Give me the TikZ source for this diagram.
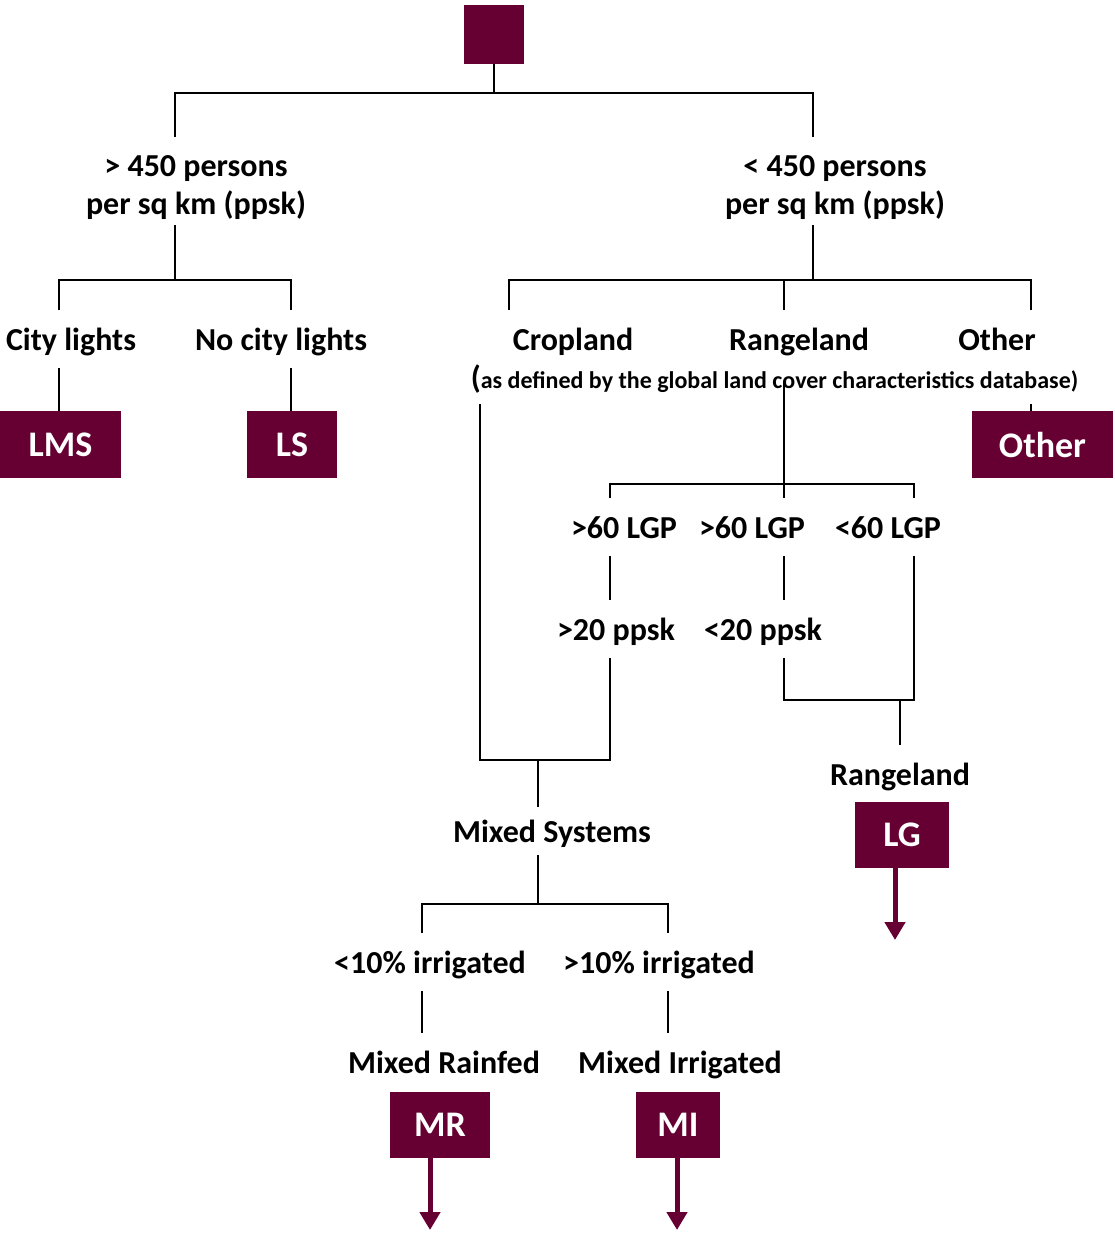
\documentclass[tikz,border=0pt]{standalone}
\usepackage{fontspec}
\setmainfont{Carlito}
\usetikzlibrary{arrows.meta}
\definecolor{wine}{HTML}{660033}

\begin{document}
\begin{tikzpicture}[
    x=1pt, y=-1pt,
    crit/.style={font=\fontsize{32}{38}\selectfont\bfseries, inner sep=0pt,
      outer ysep=10pt, text height=30pt, text depth=8pt, anchor=base},
    twoline/.style={font=\fontsize{32}{38}\selectfont\bfseries, inner sep=0pt,
      outer ysep=6pt, align=center, anchor=north},
    note/.style={font=\fontsize{24}{26}\selectfont\bfseries, inner sep=0pt,
      outer ysep=10pt, text height=20pt, text depth=6pt, anchor=base},
    sys/.style={fill=wine, text=white, font=\fontsize{36}{40}\selectfont\bfseries,
      inner sep=0pt, minimum height=67pt},
    tree/.style={line width=2.5pt},
    down/.style={wine, line width=5pt, -{Triangle[length=18pt, width=20pt]}}
  ]
    \useasboundingbox (0,0) rectangle (1115,1234);

    % boxes
    \node[sys, minimum width=60pt, minimum height=59pt] (root) at (494,34.5) {};
    \node[sys, minimum width=121pt] (lms) at (60.5,444.5) {LMS};
    \node[sys, minimum width=90pt] (ls) at (292,444.5) {LS};
    \node[sys, minimum width=141pt] (othbox) at (1042.5,444.5) {Other};
    \node[sys, minimum width=94pt, minimum height=66pt] (lg) at (902,835) {LG};
    \node[sys, minimum width=100pt, minimum height=66pt] (mr) at (440,1125) {MR};
    \node[sys, minimum width=84pt, minimum height=66pt] (mi) at (678,1125) {MI};

    % criteria
    \node[twoline] (hi) at (196,137) {\rule{0pt}{33pt}> 450 persons\\per sq km (ppsk)};
    \node[twoline] (lo) at (835,137) {\rule{0pt}{33pt}< 450 persons\\per sq km (ppsk)};
    \node[crit] (city) at (71,350) {City lights};
    \node[crit] (nocity) at (281,350) {No city lights};
    \node[crit] (crop) at (573,350) {Cropland};
    \node[crit] (range) at (799,350) {Rangeland};
    \node[crit] (other) at (997,350) {Other};
    \node[note] (gl) at (774.5,388)
      {{\fontsize{32}{32}\selectfont(}as defined by the global land cover characteristics database)};
    \node[crit] (g1) at (624,538) {>60 LGP};
    \node[crit] (g2) at (752,538) {>60 LGP};
    \node[crit] (g3) at (888,538) {<60 LGP};
    \node[crit] (pp1) at (616,640) {>20 ppsk};
    \node[crit] (pp2) at (763,640) {<20 ppsk};
    \node[crit] (rg) at (900,785) {Rangeland};
    \node[crit, outer ysep=5pt] (mixed) at (552,842) {Mixed Systems};
    \node[crit] (i1) at (430,973) {<10\% irrigated};
    \node[crit] (i2) at (659,973) {>10\% irrigated};
    \node[crit] (rf) at (444,1073) {Mixed Rainfed};
    \node[crit] (ir) at (680,1073) {Mixed Irrigated};

    % branch points
    \coordinate (hc) at (175,93);
    \coordinate (lc) at (813,93);
    \coordinate (cl) at (59,280);
    \coordinate (ncl) at (291,280);
    \coordinate (cc) at (509,280);
    \coordinate (rc) at (784,280);
    \coordinate (oc) at (1031,280);
    \coordinate (la) at (610,484);
    \coordinate (lb) at (914,484);
    \coordinate (pa) at (784,700);
    \coordinate (pb) at (914,700);
    \coordinate (px) at (900,700);
    \coordinate (cx) at (480,760);
    \coordinate (gx) at (610,760);
    \coordinate (mx) at (538,760);
    \coordinate (ma) at (422,904);
    \coordinate (mb) at (668,904);
    \coordinate (ga) at (895,940);
    \coordinate (ra) at (430,1230);
    \coordinate (ia) at (677,1230);

    % density split
    \draw[tree] (root.south) -- (root.south |- hc);
    \draw[tree] (hi.north -| hc) -- (hc) -- (lc) -- (lo.north -| lc);

    % urban side
    \draw[tree] (hi.south -| hc) -- (hc |- cl);
    \draw[tree] (city.north -| cl) -- (cl) -- (ncl) -- (nocity.north -| ncl);
    \draw[tree] (city.south -| cl) -- (lms.north -| cl);
    \draw[tree] (nocity.south -| ncl) -- (ls.north -| ncl);

    % land cover
    \draw[tree] (lo.south -| lc) -- (lc |- rc);
    \draw[tree] (crop.north -| cc) -- (cc) -- (oc) -- (other.north -| oc);
    \draw[tree] (range.north -| rc) -- (rc);
    \draw[tree] (gl.south -| oc) -- (othbox.north -| oc);

    % growing period
    \draw[tree] (gl -| rc) -- (rc |- la);
    \draw[tree] (g1.north -| la) -- (la) -- (lb) -- (g3.north -| lb);
    \draw[tree] (g2.north -| rc) -- (rc |- la);
    \draw[tree] (g1.south -| la) -- (pp1.north -| la);
    \draw[tree] (g2.south -| rc) -- (pp2.north -| rc);
    \draw[tree] (pp2.south -| pa) -- (pa) -- (pb) -- (g3.south -| pb);
    \draw[tree] (px) -- (rg.north -| px);

    % mixed systems
    \draw[tree] (gl.south -| cx) -- (cx) -- (gx) -- (pp1.south -| gx);
    \draw[tree] (mx) -- (mixed.north -| mx);
    \draw[tree] (mixed.south -| mx) -- (mx |- ma);
    \draw[tree] (i1.north -| ma) -- (ma) -- (mb) -- (i2.north -| mb);
    \draw[tree] (i1.south -| ma) -- (rf.north -| ma);
    \draw[tree] (i2.south -| mb) -- (ir.north -| mb);

    % outputs
    \draw[down] (lg.south -| ga) -- (ga);
    \draw[down] (mr.south -| ra) -- (ra);
    \draw[down] (mi.south -| ia) -- (ia);
\end{tikzpicture}
\end{document}
